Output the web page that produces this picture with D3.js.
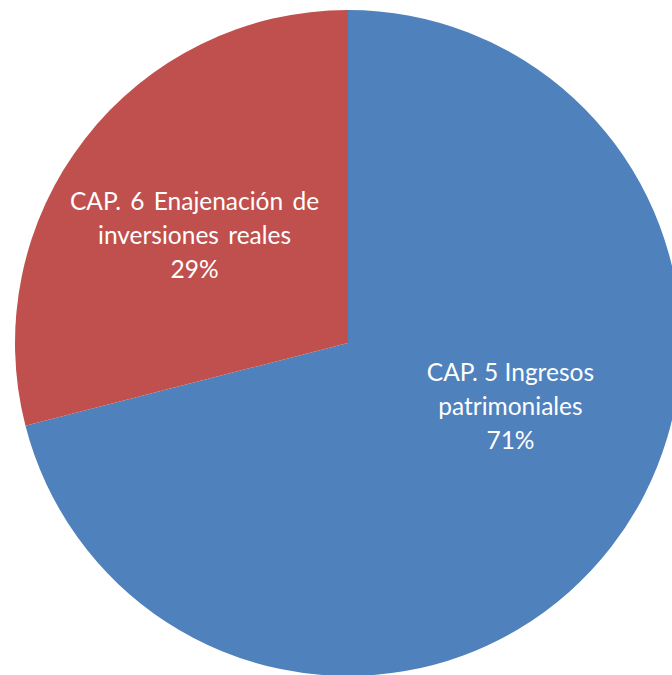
<!DOCTYPE html>
<html>
<head>
<meta charset="utf-8">
<script src="https://cdn.jsdelivr.net/npm/d3@7"></script>
<style>
  html, body { margin: 0; padding: 0; background: #fff; overflow: hidden; }
  svg { display: block; }
</style>
</head>
<body>
<svg id="chart" width="672" height="675"></svg>
<script>
// Revenue breakdown by chapter (share of total, percent)
const categories = ["CAP. 5 Ingresos patrimoniales", "CAP. 6 Enajenación de inversiones reales"];
const labelLines = [["CAP. 5 Ingresos", "patrimoniales"], ["CAP. 6 Enajenación de", "inversiones reales"]];
const shares = [71, 29];
const colors = ["#4F81BD", "#C0504D"];

const svg = d3.select("#chart");
const cx = 348, cy = 343, radius = 333;

const g = svg.append("g").attr("transform", `translate(${cx},${cy})`);

const pie = d3.pie().sort(null).value(d => d.value);
const arcs = pie(categories.map((c, i) => ({ name: c, value: shares[i], i })));

const arc = d3.arc().innerRadius(0).outerRadius(radius);

g.selectAll("path.slice")
  .data(arcs)
  .enter().append("path")
  .attr("class", "slice")
  .attr("d", arc)
  .attr("fill", d => colors[d.data.i]);

// Labels: placed near the slice centroid, nudged to the best-fit spot
const labelArc = d3.arc().innerRadius(radius * 0.53).outerRadius(radius * 0.53);
const nudges = [[23, -45], [-14, 1]];
const total = d3.sum(shares);
const fontSize = 24.5, lineH = 34;

arcs.forEach(d => {
  const [x, y] = labelArc.centroid(d);
  const [nx, ny] = nudges[d.data.i];
  const lines = labelLines[d.data.i].concat([Math.round(d.data.value / total * 100) + "%"]);
  const t = g.append("text")
    .attr("text-anchor", "middle")
    .attr("fill", "#ffffff")
    .style("font-family", "Lato, 'Open Sans', sans-serif")
    .style("font-size", fontSize + "px")
    .style("word-spacing", d.data.i === 1 ? "3px" : "0px");
  lines.forEach((ln, k) => {
    t.append("tspan")
      .attr("x", x + nx)
      .attr("y", y + ny + (k - 1) * lineH + fontSize * 0.35)
      .text(ln);
  });
});
</script>
</body>
</html>
